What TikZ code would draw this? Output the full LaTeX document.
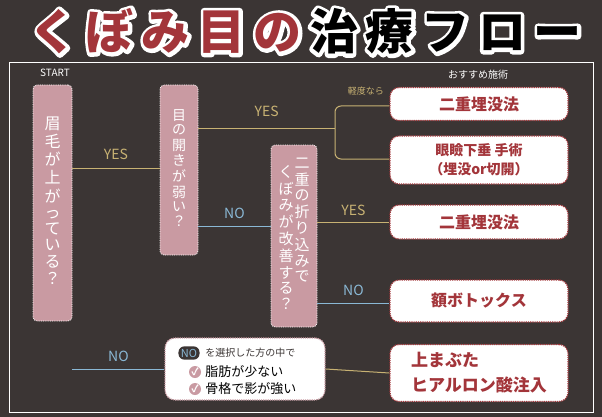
\documentclass[tikz,border=0pt]{standalone}
\usepackage{fontspec}
\setmainfont{Noto Sans CJK JP}
\usetikzlibrary{positioning, arrows.meta, calc}
\definecolor{bgc}{HTML}{3B3534}
\definecolor{pinkq}{HTML}{C99AA2}
\definecolor{redt}{HTML}{A3353A}
\definecolor{gold}{HTML}{C8B273}
\definecolor{blueno}{HTML}{8AB8D5}
\tikzset{%
	q/.style = {draw = white, densely dotted, line width = 0.8pt, fill = pinkq, rounded corners = 4pt, text = white, align = center, inner sep = 0pt},
	res/.style = {draw = redt, densely dotted, line width = 1.2pt, fill = white, rounded corners = 9pt, text = redt, inner sep = 0pt},
	yes/.style = {draw = gold, line width = 1pt},
	no/.style = {draw = blueno, line width = 1pt},
	lab/.style = {font = \fontsize{14}{14}\selectfont},
	chk/.style = {circle, fill = pinkq, minimum size = 12pt, inner sep = 0pt}
}
\newcommand{\vtext}[2]{\fontsize{#1}{#1}\selectfont\begin{tabular}{@{}c@{}}#2\end{tabular}}
\newcommand{\ttlstroke}{{\color{white}\special{pdf:literal direct 2 Tr 7 w 1 j}く\,ぼ\,み\,目\,の\,治\,療\,フ\,ロ\,ー\special{pdf:literal direct 0 Tr 1 w}}}
\newcommand{\ttltext}{\textcolor{redt}{く\,ぼ\,み\,目\,の}\,\textcolor{black}{治\,療\,フ\,ロ\,ー}}
\begin{document}
\begin{tikzpicture}[x=1pt, y=-1pt]
\fill [bgc] (0,0) rectangle (602,417);
\useasboundingbox (0,0) rectangle (602,417);
% title with white outline
\node [anchor = base, font = \bfseries\fontsize{48}{48}\selectfont] (title) at (306,50) {\rlap{\ttlstroke}\ttltext};
\draw [white, line width = 0.8pt] (9,62) rectangle (593,412);
\node [text = white, font = \fontsize{10}{10}\selectfont] (start) at (55,73) {START};
\node [text = white, font = \fontsize{10}{10}\selectfont] (rec) at (478,75) {おすすめ施術};
% questions
\node [q, minimum width = 39pt, minimum height = 236pt] (q1) at (52.5,203) {\vtext{16}{眉\\毛\\が\\上\\が\\っ\\て\\い\\る\\？}};
\node [q, minimum width = 38pt, minimum height = 170pt] (q2) at (179,170) {\vtext{14}{目\\の\\開\\き\\が\\弱\\い\\？}};
\node [q, minimum width = 46pt, minimum height = 182pt] (q3) at (294,236) {\raisebox{-9pt}{\vtext{15}{く\\ぼ\\み\\が\\改\\善\\す\\る\\？}}\hspace{1pt}\raisebox{9pt}{\vtext{15}{二\\重\\の\\折\\り\\込\\み\\で}}};
% results
\node [res, minimum width = 178pt, minimum height = 33pt, font = \bfseries\fontsize{16}{16}\selectfont] (r1) at (479,104) {二重埋没法};
\node [res, minimum width = 178pt, minimum height = 48pt, align = center, font = \bfseries\fontsize{14}{19}\selectfont] (r2) at (479,160) {眼瞼下垂 手術\hspace{3em}\\（埋没or切開）\hspace{3em}};
\node [res, minimum width = 178pt, minimum height = 34pt, font = \bfseries\fontsize{16}{16}\selectfont] (r3) at (479,222) {二重埋没法};
\node [res, minimum width = 178pt, minimum height = 42pt, font = \bfseries\fontsize{16}{16}\selectfont] (r4) at (479,301) {額ボトックス\hspace{4em}};
\node [res, minimum width = 178pt, minimum height = 57pt, align = left, font = \bfseries\fontsize{17}{25}\selectfont] (r5) at (479,373) {上まぶた\hspace{7em}\\ヒアルロン酸注入\hspace{2em}};
% note
\node [draw = pinkq, densely dotted, line width = 1.2pt, fill = white, rounded corners = 10pt, minimum width = 160pt, minimum height = 62pt] (note) at (245,369) {};
\node [fill = bgc, text = blueno, rounded corners = 6pt, inner sep = 2.5pt, font = \fontsize{11}{11}\selectfont] (nopill) at (189,353) {NO};
\node [right = 2pt of nopill, font = \fontsize{10}{10}\selectfont, text = bgc] (sel) {を選択した方の中で};
\node [chk] (c1) at (195,372) {\color{white}\bfseries ✓};
\node [chk] (c2) at (195,389) {\color{white}\bfseries ✓};
\node [right = 4pt of c1, font = \fontsize{13}{13}\selectfont, text = black, inner sep = 0pt] {脂肪が少ない};
\node [right = 4pt of c2, font = \fontsize{13}{13}\selectfont, text = black, inner sep = 0pt] {骨格で影が強い};
% connectors
\coordinate (b1) at (335,129);
\coordinate (b2) at (335,106);
\coordinate (b3) at (335,159);
\draw [yes] (q1.east |- 0,168) -- (q2.west |- 0,168) node [midway, above = 4pt, text = gold, lab] {YES};
\draw [yes] (q2.east |- b1) -- (b1) node [midway, above = 8pt, text = gold, lab] {YES};
\draw [yes, rounded corners = 6pt] (r1.west |- b2) -- (b2) -- (b3) -- (r2.west |- b3);
\node [text = gold, font = \fontsize{9}{9}\selectfont, left = 2pt of r1.north west, yshift = -4pt] {軽度なら};
\draw [no] (q2.east |- 0,226) -- (q3.west |- 0,226) node [midway, above = 3pt, text = blueno, lab] {NO};
\draw [yes] (q3.east |- r3.west) -- (r3.west) node [midway, above = 2pt, text = gold, lab] {YES};
\draw [no] (q3.east |- 0,303) -- (r4.west |- 0,303) node [midway, above = 3pt, text = blueno, lab] {NO};
\draw [no] (q1.east |- note.west) -- (note.west) node [midway, above = 3pt, text = blueno, lab] {NO};
\draw [yes] (note.east) -- (r5.west);
\end{tikzpicture}
\end{document}
